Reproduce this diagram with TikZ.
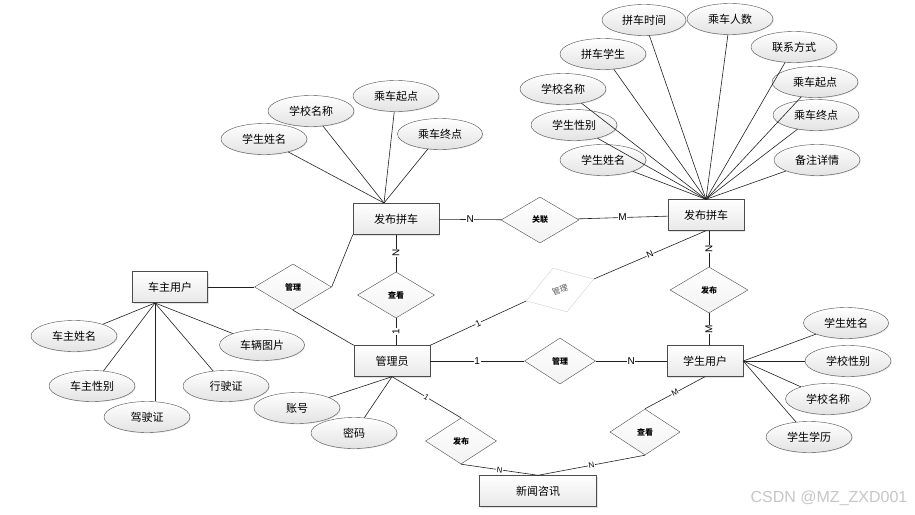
\documentclass[tikz,border=0pt]{standalone}
\usepackage{fontspec}
\newfontfamily\cjk{Noto Sans CJK SC}
\newfontfamily\wm{Liberation Sans}
\usetikzlibrary{shapes.geometric,shadows}

\begin{document}
\begin{tikzpicture}[x=1pt,y=-1pt,
    ent/.style={draw=gray!60!black, rectangle, minimum width=76pt, minimum height=31pt,
      top color=white, bottom color=gray!18, font=\cjk\fontsize{11}{11}\selectfont,
      drop shadow={shadow xshift=1pt, shadow yshift=-1pt, fill=gray!45}},
    attr/.style={draw=gray!60!black, ellipse, minimum width=86pt, minimum height=31pt,
      inner sep=0pt, top color=white, bottom color=gray!22, font=\cjk\fontsize{11}{11}\selectfont,
      drop shadow={shadow xshift=0.8pt, shadow yshift=-0.8pt, fill=gray!40}},
    rel/.style={draw=gray!60!black, diamond, aspect=1.6, minimum width=77pt, minimum height=46pt,
      inner sep=0pt, top color=white, bottom color=gray!10, font=\cjk\bfseries\fontsize{8}{8}\selectfont},
    card/.style={fill=white, inner sep=0.5pt, font=\wm\fontsize{10}{10}\selectfont},
    link/.style={draw=gray!25!black, line width=0.6pt}]
    \useasboundingbox (0,0) rectangle (915,514);
    % entities
    \node[ent, minimum width=86pt] (pl) at (396,219) {发布拼车};
    \node[ent] (pr) at (706,215) {发布拼车};
    \node[ent, minimum width=75pt] (car) at (170,287) {车主用户};
    \node[ent] (admin) at (392,361) {管理员};
    \node[ent] (stu) at (705,361) {学生用户};
    \node[ent, minimum width=117pt] (news) at (538,491) {新闻咨讯};
    % relations
    \node[rel, minimum width=78pt] (gl) at (540,220) {关联};
    \node[rel] (gl1) at (293,287) {管理};
    \node[rel] (ck1) at (396,295) {查看};
    \node[rel, minimum width=71pt, draw=gray!35, top color=white, bottom color=white,
      text=gray!70!black, font=\cjk\fontsize{8}{8}\selectfont, rotate=18] (gl2) at (560,290) {管理};
    \node[rel, minimum width=78pt] (fb1) at (709,290) {发布};
    \node[rel, minimum width=71pt] (gl3) at (560,361) {管理};
    \node[rel, minimum width=71pt] (fb2) at (461,441) {发布};
    \node[rel, minimum width=70pt] (ck2) at (645,432) {查看};
    % attributes of the right 发布拼车
    \node[attr, minimum width=84pt] (r1) at (644,20) {拼车时间};
    \node[attr] (r2) at (730,19) {乘车人数};
    \node[attr] (r3) at (603,54) {拼车学生};
    \node[attr] (r4) at (794,47) {联系方式};
    \node[attr] (r5) at (563,89) {学校名称};
    \node[attr] (r6) at (815,82) {乘车起点};
    \node[attr] (r7) at (574,125) {学生性别};
    \node[attr] (r8) at (816,115) {乘车终点};
    \node[attr] (r9) at (603,160) {学生姓名};
    \node[attr] (r10) at (817,160) {备注详情};
    \foreach \a in {r1,r2,r3,r4,r5,r6,r7,r8,r9,r10}
      \draw[link] (\a) -- (pr.north);
    % attributes of the left 发布拼车
    \coordinate (pt) at (384,203);
    \node[attr] (l1) at (264,139) {学生姓名};
    \node[attr] (l2) at (311,111) {学校名称};
    \node[attr] (l3) at (396,96) {乘车起点};
    \node[attr, minimum width=85pt] (l4) at (440,134) {乘车终点};
    \foreach \a in {l1,l2,l3,l4}
      \draw[link] (\a) -- (pt);
    % attributes of 车主用户
    \coordinate (ct) at (155,303);
    \node[attr] (c1) at (74,336) {车主姓名};
    \node[attr] (c2) at (92,386) {车主性别};
    \node[attr] (c3) at (147,417) {驾驶证};
    \node[attr] (c4) at (226,386) {行驶证};
    \node[attr, minimum width=85pt] (c5) at (262,345) {车辆图片};
    \foreach \a in {c1,c2,c4,c5}
      \draw[link] (\a) -- (ct);
    \draw[link] (ct |- c3.north) -- (ct);
    % attributes of 管理员
    \node[attr] (a1) at (297,408) {账号};
    \node[attr] (a2) at (354,433) {密码};
    \draw[link] (a1) -- (admin.south);
    \draw[link] (a2) -- (admin.south);
    % attributes of 学生用户
    \node[attr, minimum width=85pt] (s1) at (846,323) {学生姓名};
    \node[attr] (s2) at (848,361) {学校性别};
    \node[attr, minimum width=85pt] (s3) at (828,399) {学校名称};
    \node[attr] (s4) at (809,437) {学生学历};
    \foreach \a in {s1,s2,s3,s4}
      \draw[link] (\a) -- (stu.east);
    % relation lines
    \draw[link] (pl) -- node[card]{N} (gl);
    \draw[link] (gl) -- node[card]{M} (pr);
    \draw[link] (car) -- (gl1);
    \draw[link] (pl.south west) -- (gl1.east);
    \draw[link] (gl1.south) -- (admin.north west);
    \draw[link] (pl.south -| ck1) -- node[card, rotate=90]{N} (ck1.north);
    \draw[link] (ck1.south) -- node[card, rotate=90]{1} (ck1.south |- admin.north);
    \draw[link] (admin.north east) -- node[card, sloped, font=\wm\fontsize{9}{9}\selectfont]{1} (gl2.west);
    \draw[link] (gl2.east) -- node[card, sloped, font=\wm\fontsize{9}{9}\selectfont]{N} (pr.south);
    \draw[link] (admin) -- node[card]{1} (gl3);
    \draw[link] (gl3) -- node[card]{N} (stu);
    \draw[link] (pr.south -| fb1) -- node[card, rotate=90]{N} (fb1.north);
    \draw[link] (fb1.south) -- node[card, rotate=90]{M} (fb1.south |- stu.north);
    \draw[link] (admin.south) -- node[card, sloped, font=\wm\fontsize{8}{8}\selectfont]{1} (fb2.north);
    \draw[link] (stu.south) -- node[card, sloped, font=\wm\fontsize{8}{8}\selectfont]{M} (ck2.north);
    \draw[link] (fb2.south) -- node[card, sloped, font=\wm\fontsize{8}{8}\selectfont]{N} (news.north);
    \draw[link] (ck2.south) -- node[card, sloped, font=\wm\fontsize{8}{8}\selectfont]{N} (news.north);
    % watermark
    \node[text=gray!45, font=\wm\fontsize{16}{16}\selectfont] (mark) at (829,498) {CSDN @MZ\_ZXD001};
\end{tikzpicture}
\end{document}
